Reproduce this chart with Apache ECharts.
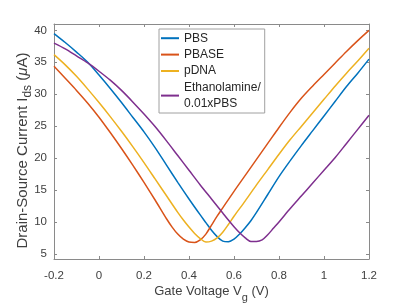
<!DOCTYPE html>
<html>
<head>
<meta charset="utf-8">
<script src="https://cdn.jsdelivr.net/npm/echarts@6/dist/echarts.min.js"></script>
<style>
html,body{margin:0;padding:0;background:#fff;}
#c{width:409px;height:308px;}
</style>
</head>
<body>
<div id="c"></div>
<script>
// Gate voltage (V) and drain-source current (uA) per series
const pbsV   = [-0.2,-0.15,-0.1,-0.05,0,0.05,0.1,0.15,0.2,0.25,0.3,0.35,0.4,0.45,0.475,0.5,0.525,0.55,0.575,0.6,0.625,0.65,0.675,0.7,0.75,0.8,0.85,0.9,0.95,1.0,1.05,1.1,1.15,1.2];
const pbsI   = [39.5,38.1,36.6,35.0,33.0,30.9,28.7,26.4,24.1,21.6,18.9,16.2,13.6,11.1,9.9,8.7,7.7,7.0,6.9,7.3,8.1,9.1,10.2,11.5,14.3,17.1,19.6,22.0,24.3,26.6,28.9,31.2,33.3,35.5];
const pbaseV = [-0.2,-0.15,-0.1,-0.05,0,0.05,0.1,0.15,0.2,0.25,0.3,0.325,0.35,0.375,0.4,0.425,0.45,0.475,0.5,0.525,0.55,0.6,0.65,0.7,0.75,0.8,0.85,0.9,0.95,1.0,1.05,1.1,1.15,1.2];
const pbaseI = [34.4,32.5,30.6,28.6,26.4,24.0,21.5,18.9,16.2,13.4,10.5,9.2,8.1,7.3,6.85,6.8,7.2,8.1,9.5,10.9,12.2,14.8,17.3,19.8,22.3,24.8,27.2,29.4,31.3,33.1,34.9,36.7,38.4,40.0];
const pdnaV  = [-0.2,-0.15,-0.1,-0.05,0,0.05,0.1,0.15,0.2,0.25,0.3,0.35,0.375,0.4,0.425,0.45,0.475,0.5,0.525,0.55,0.575,0.6,0.65,0.7,0.75,0.8,0.85,0.9,0.95,1.0,1.05,1.1,1.15,1.2];
const pdnaI  = [36.2,34.6,32.8,30.8,28.7,26.5,24.2,21.8,19.3,16.7,14.1,11.5,10.3,9.2,8.2,7.4,6.85,7.0,7.5,8.4,9.6,10.9,13.3,15.8,18.2,20.6,22.9,25.0,27.1,29.2,31.3,33.3,35.2,37.2];
const ethV   = [-0.2,-0.15,-0.1,-0.05,0,0.05,0.1,0.15,0.2,0.25,0.3,0.35,0.4,0.45,0.5,0.55,0.575,0.6,0.625,0.65,0.675,0.7,0.725,0.75,0.775,0.8,0.85,0.9,0.95,1.0,1.05,1.1,1.15,1.2];
const ethI   = [38.0,37.1,36.0,34.9,33.6,32.2,30.6,28.8,26.9,24.9,22.7,20.4,18.1,15.8,13.6,11.4,10.3,9.25,8.3,7.5,6.95,6.95,7.2,8.0,9.0,10.0,12.1,14.1,16.1,18.1,20.1,22.3,24.5,26.7];

const seriesNames = ['PBS','PBASE','pDNA','Ethanolamine/\n0.01xPBS'];
const seriesColors = ['#0072BD','#D95319','#EDB120','#7E2F8E'];
const xTicks = [-0.2,0,0.2,0.4,0.6,0.8,1,1.2];
const yTicks = [5,10,15,20,25,30,35,40];

const allV = [pbsV,pbaseV,pdnaV,ethV];
const allI = [pbsI,pbaseI,pdnaI,ethI];
const font = 'Liberation Sans, Arial, sans-serif';
const axisColor = '#8a8a8a';
const labelColor = '#404040';

const chart = echarts.init(document.getElementById('c'), null, {renderer:'canvas'});
const series = allI.map((ys,i)=>({
  name: seriesNames[i],
  type: 'line',
  data: allV[i].map((x,j)=>[x,ys[j]]),
  smooth: 0.3,
  showSymbol: false,
  lineStyle: {color: seriesColors[i], width: 1.5},
  itemStyle: {color: seriesColors[i]},
  xAxisIndex: 0, yAxisIndex: 0
}));

chart.setOption({
  backgroundColor: '#fff',
  animation: false,
  grid: {left: 54, right: 40, top: 24, bottom: 46, show: false},
  legend: {
    orient: 'vertical', left: 159, top: 29,
    padding: [1, 4, 1, 2],
    itemGap: 0,
    itemWidth: 18, itemHeight: 2,
    icon: 'rect',
    borderColor: '#a0a0a0', borderWidth: 1,
    backgroundColor: '#fff',
    data: seriesNames,
    textStyle: {fontFamily: font, fontSize: 12, color: '#262626', lineHeight: 16.4}
  },
  xAxis: [{
    type: 'value', min: -0.2, max: 1.2, position: 'bottom',
    axisLine: {show: true, onZero: false, lineStyle: {color: axisColor, width: 1}},
    axisTick: {show: true, inside: true, length: 3, customValues: xTicks, lineStyle: {color: axisColor}},
    axisLabel: {customValues: xTicks, fontFamily: font, fontSize: 11.5, color: labelColor, margin: 11},
    splitLine: {show: false},
    name: '{a|Gate Voltage V}{s|g}{a| (V)}',
    nameLocation: 'middle', nameGap: 26, nameMoveOverlap: false,
    nameTextStyle: {
      rich: {
        a: {fontFamily: font, fontSize: 13, color: labelColor, lineHeight: 16, verticalAlign: 'top'},
        s: {fontFamily: font, fontSize: 11, color: labelColor, lineHeight: 16, verticalAlign: 'top', padding: [7,0,0,0]}
      }
    }
  },{
    type: 'value', min: -0.2, max: 1.2, position: 'top',
    axisLine: {show: true, onZero: false, lineStyle: {color: axisColor, width: 1}},
    axisTick: {show: true, inside: true, length: 3, customValues: xTicks, lineStyle: {color: axisColor}},
    axisLabel: {show: false},
    splitLine: {show: false}
  }],
  yAxis: [{
    type: 'value', min: 4.2, max: 41, position: 'left',
    axisLine: {show: true, onZero: false, lineStyle: {color: axisColor, width: 1}},
    axisTick: {show: true, inside: true, length: 3, customValues: yTicks, lineStyle: {color: axisColor}},
    axisLabel: {customValues: yTicks, fontFamily: font, fontSize: 11.5, color: labelColor, margin: 7},
    splitLine: {show: false},
    name: '{a|Drain-Source Current I}{s|ds}{a| (}{i|μ}{a|A)}',
    nameLocation: 'middle', nameGap: 21, nameMoveOverlap: false,
    nameTextStyle: {
      padding: [0, 18, 0, 0],
      rich: {
        a: {fontFamily: font, fontSize: 15, color: labelColor, lineHeight: 18, verticalAlign: 'top'},
        i: {fontFamily: font, fontSize: 15, fontStyle: 'italic', color: labelColor, lineHeight: 18, verticalAlign: 'top'},
        s: {fontFamily: font, fontSize: 12, color: labelColor, lineHeight: 18, verticalAlign: 'top', padding: [7,0,0,0]}
      }
    }
  },{
    type: 'value', min: 4.2, max: 41, position: 'right',
    axisLine: {show: true, onZero: false, lineStyle: {color: axisColor, width: 1}},
    axisTick: {show: true, inside: true, length: 3, customValues: yTicks, lineStyle: {color: axisColor}},
    axisLabel: {show: false},
    splitLine: {show: false}
  }],
  series: series
});
</script>
</body>
</html>
